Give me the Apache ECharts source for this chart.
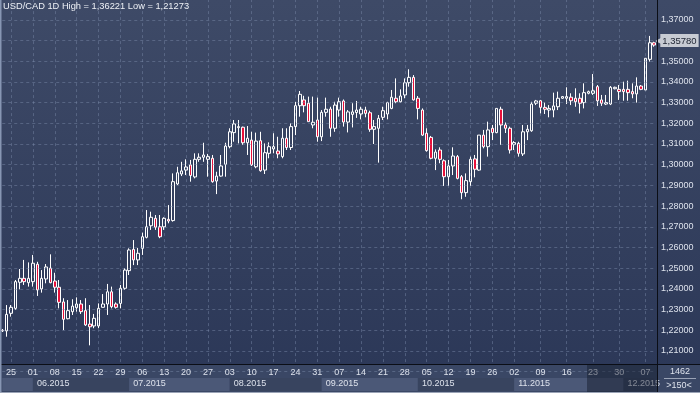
<!DOCTYPE html>
<html><head><meta charset="utf-8">
<script src="https://cdn.jsdelivr.net/npm/echarts@6/dist/echarts.min.js"></script>
<style>html,body{margin:0;padding:0;background:#2e3a58;}#c{width:700px;height:393px;}</style>
</head><body><div id="c"></div>
<script>
const symbol = 'USD/CAD';
const period = '1D';
const dates = [
'2015-05-21','2015-05-22',
'2015-05-25','2015-05-26','2015-05-27','2015-05-28','2015-05-29',
'2015-06-01','2015-06-02','2015-06-03','2015-06-04','2015-06-05',
'2015-06-08','2015-06-09','2015-06-10','2015-06-11','2015-06-12',
'2015-06-15','2015-06-16','2015-06-17','2015-06-18','2015-06-19',
'2015-06-22','2015-06-23','2015-06-24','2015-06-25','2015-06-26',
'2015-06-29','2015-06-30','2015-07-01','2015-07-02','2015-07-03',
'2015-07-06','2015-07-07','2015-07-08','2015-07-09','2015-07-10',
'2015-07-13','2015-07-14','2015-07-15','2015-07-16','2015-07-17',
'2015-07-20','2015-07-21','2015-07-22','2015-07-23','2015-07-24',
'2015-07-27','2015-07-28','2015-07-29','2015-07-30','2015-07-31',
'2015-08-03','2015-08-04','2015-08-05','2015-08-06','2015-08-07',
'2015-08-10','2015-08-11','2015-08-12','2015-08-13','2015-08-14',
'2015-08-17','2015-08-18','2015-08-19','2015-08-20','2015-08-21',
'2015-08-24','2015-08-25','2015-08-26','2015-08-27','2015-08-28',
'2015-08-31','2015-09-01','2015-09-02','2015-09-03','2015-09-04',
'2015-09-07','2015-09-08','2015-09-09','2015-09-10','2015-09-11',
'2015-09-14','2015-09-15','2015-09-16','2015-09-17','2015-09-18',
'2015-09-21','2015-09-22','2015-09-23','2015-09-24','2015-09-25',
'2015-09-28','2015-09-29','2015-09-30','2015-10-01','2015-10-02',
'2015-10-05','2015-10-06','2015-10-07','2015-10-08','2015-10-09',
'2015-10-12','2015-10-13','2015-10-14','2015-10-15','2015-10-16',
'2015-10-19','2015-10-20','2015-10-21','2015-10-22','2015-10-23',
'2015-10-26','2015-10-27','2015-10-28','2015-10-29','2015-10-30',
'2015-11-02','2015-11-03','2015-11-04','2015-11-05','2015-11-06',
'2015-11-08','2015-11-09','2015-11-10','2015-11-11','2015-11-12','2015-11-13',
'2015-11-15','2015-11-16','2015-11-17','2015-11-18','2015-11-19','2015-11-20',
'2015-11-22','2015-11-23','2015-11-24','2015-11-25','2015-11-26','2015-11-27',
'2015-11-29','2015-11-30','2015-12-01','2015-12-02','2015-12-03','2015-12-04',
'2015-12-06','2015-12-07','2015-12-08','2015-12-09'
];
const opens = [
1.2200,1.2197,1.2282,1.2306,1.2432,1.2451,1.2430,1.2435,1.2519,1.2400,
1.2448,1.2500,1.2438,1.2408,1.2337,1.2256,1.2290,1.2309,1.2327,1.2295,
1.2230,1.2221,1.2221,1.2311,1.2327,1.2386,1.2327,1.2330,1.2403,1.2488,
1.2591,1.2540,1.2596,1.2649,1.2705,1.2741,1.2700,1.2700,1.2736,1.2730,
1.2907,1.2955,1.2974,1.2999,1.2941,1.3026,1.3036,1.3026,1.3031,1.2921,
1.2945,1.3002,1.3087,1.3155,1.3179,1.3181,1.3106,1.3119,1.2990,1.3116,
1.2974,1.3055,1.3076,1.3066,1.3039,1.3128,1.3083,1.3184,1.3285,1.3313,
1.3297,1.3192,1.3216,1.3135,1.3253,1.3269,1.3176,1.3264,1.3308,1.3206,
1.3243,1.3252,1.3245,1.3264,1.3251,1.3171,1.3176,1.3229,1.3245,1.3272,
1.3321,1.3304,1.3337,1.3396,1.3422,1.3321,1.3264,1.3152,1.3132,1.3031,
1.3071,1.3019,1.2942,1.2994,1.3039,1.2942,1.2865,1.2918,1.3028,1.2974,
1.3143,1.3087,1.3176,1.3155,1.3268,1.3192,1.3176,1.3098,1.3103,1.3052,
1.3159,1.3164,1.3297,1.3309,1.3277,1.3264,1.3264,1.3280,1.3321,1.3321,
1.3326,1.3321,1.3321,1.3300,1.3345,1.3345,1.3377,1.3313,1.3293,1.3293,
1.3367,1.3364,1.3364,1.3364,1.3353,1.3342,1.3380,1.3361,1.3509,1.3589
];
const highs = [
1.2206,1.2322,1.2322,1.2443,1.2496,1.2540,1.2528,1.2564,1.2531,1.2491,
1.2520,1.2567,1.2478,1.2443,1.2355,1.2346,1.2350,1.2359,1.2346,1.2355,
1.2322,1.2279,1.2330,1.2375,1.2424,1.2411,1.2335,1.2419,1.2500,1.2596,
1.2636,1.2598,1.2672,1.2781,1.2773,1.2757,1.2757,1.2746,1.2805,1.2958,
1.2990,1.3014,1.3026,1.3023,1.3055,1.3055,1.3106,1.3052,1.3047,1.2966,
1.3047,1.3106,1.3176,1.3216,1.3216,1.3184,1.3187,1.3159,1.3155,1.3159,
1.3103,1.3108,1.3152,1.3135,1.3176,1.3176,1.3200,1.3303,1.3356,1.3333,
1.3329,1.3329,1.3324,1.3264,1.3324,1.3280,1.3304,1.3324,1.3315,1.3264,
1.3297,1.3308,1.3280,1.3280,1.3261,1.3216,1.3240,1.3280,1.3304,1.3361,
1.3417,1.3364,1.3417,1.3461,1.3433,1.3332,1.3272,1.3176,1.3139,1.3074,
1.3084,1.3026,1.3023,1.3084,1.3047,1.2950,1.2958,1.3039,1.3047,1.3143,
1.3168,1.3208,1.3192,1.3272,1.3280,1.3204,1.3184,1.3114,1.3111,1.3192,
1.3192,1.3304,1.3313,1.3313,1.3300,1.3288,1.3348,1.3353,1.3332,1.3374,
1.3345,1.3369,1.3345,1.3393,1.3358,1.3438,1.3385,1.3337,1.3337,1.3380,
1.3377,1.3385,1.3401,1.3406,1.3393,1.3422,1.3385,1.3514,1.36221,1.3594
];
const lows = [
1.2192,1.2169,1.2266,1.2298,1.2398,1.2419,1.2411,1.2411,1.2366,1.2382,
1.2427,1.2427,1.2382,1.2306,1.2201,1.2253,1.2274,1.2290,1.2279,1.2221,
1.21273,1.2210,1.2210,1.2311,1.2274,1.2306,1.2305,1.2306,1.2395,1.2467,
1.2515,1.2515,1.2564,1.2644,1.2685,1.2685,1.2645,1.2685,1.2717,1.2725,
1.2902,1.2945,1.2950,1.2918,1.2934,1.3014,1.3014,1.2942,1.2913,1.2858,
1.2942,1.2942,1.3079,1.3111,1.3103,1.3095,1.3047,1.2994,1.2983,1.2966,
1.2955,1.3031,1.3055,1.3031,1.3031,1.3071,1.3071,1.3143,1.3232,1.3253,
1.3208,1.3176,1.3111,1.3114,1.3232,1.3135,1.3159,1.3232,1.3184,1.3156,
1.3180,1.3226,1.3219,1.3229,1.3159,1.3100,1.3010,1.3216,1.3219,1.3268,
1.3297,1.3300,1.3321,1.3377,1.3310,1.3219,1.3139,1.3063,1.3026,1.2974,
1.3007,1.2897,1.2897,1.2950,1.2929,1.2833,1.2845,1.2897,1.2939,1.2971,
1.3079,1.3039,1.3119,1.3152,1.3095,1.3153,1.3054,1.3071,1.3039,1.3042,
1.3119,1.3159,1.3288,1.3248,1.3245,1.3229,1.3229,1.3264,1.3318,1.3293,
1.3288,1.3280,1.3248,1.3272,1.3340,1.3337,1.3284,1.3284,1.3288,1.3288,
1.3364,1.3313,1.3309,1.3309,1.3321,1.3300,1.3360,1.3361,1.3498,1.3570
];
const closes = [
1.2197,1.2277,1.2311,1.2435,1.2451,1.2435,1.2451,1.2524,1.2395,1.2451,
1.2506,1.2430,1.2408,1.2335,1.2253,1.2295,1.2317,1.2327,1.2290,1.2226,
1.2217,1.2258,1.2306,1.2327,1.2386,1.2314,1.2311,1.2403,1.2491,1.2588,
1.2540,1.2572,1.2652,1.2700,1.2746,1.2698,1.2652,1.2741,1.2728,1.2918,
1.2961,1.2970,1.2989,1.2948,1.3026,1.3036,1.3047,1.3039,1.2918,1.2945,
1.2994,1.3090,1.3159,1.3197,1.3184,1.3106,1.3128,1.2999,1.3114,1.2971,
1.3058,1.3087,1.3087,1.3052,1.3128,1.3083,1.3184,1.3285,1.3340,1.3285,
1.3208,1.3205,1.3135,1.3253,1.3268,1.3176,1.3288,1.3304,1.3206,1.3255,
1.3255,1.3264,1.3268,1.3248,1.3171,1.3184,1.3224,1.3261,1.3300,1.3326,
1.3304,1.3332,1.3396,1.3422,1.3313,1.3272,1.3143,1.3068,1.3031,1.3061,
1.3026,1.2942,1.2994,1.3042,1.2934,1.2865,1.2923,1.3026,1.2978,1.3143,
1.3087,1.3168,1.3155,1.3272,1.3192,1.3176,1.3071,1.3107,1.3055,1.3159,
1.3171,1.3293,1.3308,1.3277,1.3268,1.3272,1.3284,1.3321,1.3329,1.3329,
1.3309,1.3304,1.3297,1.3348,1.3353,1.3357,1.3309,1.3297,1.3300,1.3374,
1.3374,1.3353,1.3353,1.3348,1.3342,1.3380,1.3364,1.3514,1.3589,1.3578
];
const yMin = 1.20, yMax = 1.38, yStep = 0.01;
const barsInfo = '1462';
const zoomInfo = '>150<';

const fmt = v => v.toFixed(5).replace('.', ',');
const candleData = dates.map((d, i) => [opens[i], closes[i], lows[i], highs[i]]);
const hi = Math.max.apply(null, highs), lo = Math.min.apply(null, lows);
const lastClose = closes[closes.length - 1];
const isMonday = (s) => new Date(s + 'T00:00:00Z').getUTCDay() === 1;
const isMonthStart = (i) => i > 0 && dates[i].slice(5, 7) !== dates[i - 1].slice(5, 7);

const FONT = 'Liberation Sans, Arial, sans-serif';
const TXT = '#dde2ec';
const GL = 2.25, GW = 651.9;   // plot x placement
const chart = echarts.init(document.getElementById('c'));
chart.setOption({
  animation: false,
  backgroundColor: {type: 'linear', x: 0, y: 0, x2: 0, y2: 1,
    colorStops: [{offset: 0, color: '#3e4a67'}, {offset: 1, color: '#2b3757'}]},
  title: {text: symbol + ' ' + period + ' High = ' + fmt(hi) + ' Low = ' + fmt(lo),
    left: 3, top: 2, padding: 0,
    textStyle: {color: '#eef1f6', fontSize: 9.3, fontWeight: 'normal', fontFamily: FONT}},
  grid: [
    {left: GL, width: GW, top: -0.9, height: 372.6, containLabel: false, outerBoundsMode: 'none'},
    {left: GL, width: GW, top: 378, height: 13, containLabel: false, outerBoundsMode: 'none'}
  ],
  xAxis: [
    {type: 'category', gridIndex: 0, position: 'bottom', data: dates, boundaryGap: false,
      axisLine: {show: false}, axisTick: {show: false}, axisLabel: {show: false},
      splitLine: {show: true, interval: (i, v) => isMonday(v),
        lineStyle: {color: 'rgba(125,140,170,0.45)', type: [3, 3], width: 1}}},
    {type: 'category', gridIndex: 0, position: 'bottom', data: dates, boundaryGap: false, z: 20,
      axisLine: {show: false}, axisTick: {show: false}, splitLine: {show: false},
      axisLabel: {show: true, interval: (i, v) => isMonday(v), formatter: v => v.slice(8, 10),
        hideOverlap: false, color: TXT, fontSize: 9, fontFamily: FONT, margin: 1, verticalAlign: 'middle'}},
    {type: 'category', gridIndex: 1, position: 'bottom', data: dates, boundaryGap: false, z: 20,
      axisLine: {show: false}, axisTick: {show: false}, splitLine: {show: false},
      splitArea: {show: true, interval: (i) => i === 0 || i === dates.length - 1 || isMonthStart(i),
        areaStyle: {color: ['#4b5877', '#38445f']}},
      axisLabel: {show: true, inside: true, interval: (i) => isMonthStart(i),
        formatter: v => v.slice(5, 7) + '.' + v.slice(0, 4), align: 'left', padding: [0, 0, 0, 4],
        color: TXT, fontSize: 9, fontFamily: FONT, margin: 7, verticalAlign: 'middle'}}
  ],
  yAxis: [
    {type: 'value', gridIndex: 0, position: 'right', min: yMin, max: yMax, interval: yStep,
      offset: 2.85, z: 20,
      axisLine: {show: false}, axisTick: {show: false},
      axisLabel: {color: TXT, fontSize: 9, fontFamily: FONT, margin: 4, hideOverlap: false,
        showMinLabel: true, showMaxLabel: true,
        formatter: v => (v < 1.205 || v > 1.375) ? '' : fmt(v)},
      splitLine: {show: true, lineStyle: {color: 'rgba(125,140,170,0.45)', type: [3, 3], width: 1}}},
    {type: 'value', gridIndex: 1, show: false}
  ],
  series: [{
    type: 'candlestick', xAxisIndex: 0, yAxisIndex: 0, data: candleData,
    barWidth: 3, clip: false,
    itemStyle: {color: 'rgba(0,0,0,0)', color0: '#e8103a', borderColor: '#ffffff', borderColor0: '#ffffff', borderWidth: 1},
    markLine: {symbol: 'none', silent: true, z: 30, data: [{yAxis: lastClose}],
      lineStyle: {color: 'rgba(0,0,0,0)', width: 0, opacity: 1},
      label: {show: true, position: 'end', distance: 1, formatter: () => '{a|\u25C0}{b|' + fmt(lastClose) + '}',
        rich: {
          a: {color: '#c7cbd3', fontSize: 8, fontFamily: 'DejaVu Sans', padding: [0, -1, 0, 0]},
          b: {backgroundColor: '#c7cbd3', color: '#1c2230', fontSize: 9.5, fontFamily: FONT, padding: [2, 2, 1, 2]}
        }}}
  }],
  graphic: [
    {type: 'rect', z: 5, shape: {x: 0, y: 364, width: 700, height: 29}, style: {fill: '#3a4765'}},
    {type: 'rect', z: 30, shape: {x: 587, y: 365, width: 70, height: 27}, style: {fill: 'rgba(18,24,40,0.45)'}},
    {type: 'line', z: 40, shape: {x1: 657.5, y1: 0, x2: 657.5, y2: 393}, style: {stroke: '#0b0e16', lineWidth: 1}},
    {type: 'line', z: 40, shape: {x1: 0, y1: 364.5, x2: 700, y2: 364.5}, style: {stroke: '#0b0e16', lineWidth: 1}},
    {type: 'line', z: 40, shape: {x1: 0.75, y1: 0, x2: 0.75, y2: 393}, style: {stroke: '#8796b3', lineWidth: 1.5}},
    {type: 'line', z: 40, shape: {x1: 0, y1: 392.5, x2: 700, y2: 392.5}, style: {stroke: '#9aa3b6', lineWidth: 1}},
    {type: 'line', z: 40, shape: {x1: 664, y1: 378.5, x2: 696, y2: 378.5}, style: {stroke: '#9aa3b6', lineWidth: 1}},
    {type: 'text', z: 40, x: 680, y: 372, style: {text: barsInfo, fill: TXT, font: '9px ' + FONT, align: 'center', verticalAlign: 'middle'}},
    {type: 'text', z: 40, x: 679, y: 386, style: {text: zoomInfo, fill: TXT, font: '9px ' + FONT, align: 'center', verticalAlign: 'middle'}}
  ]
});
</script></body></html>
